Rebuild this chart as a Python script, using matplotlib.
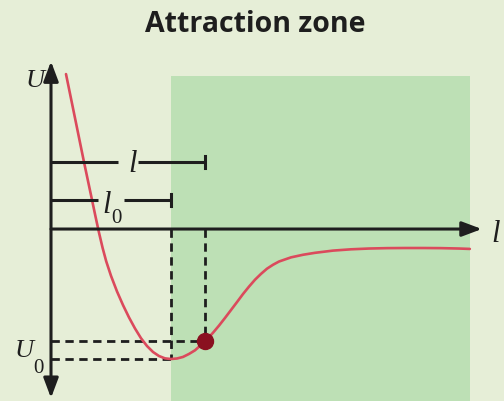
import numpy as np
import matplotlib
matplotlib.use('Agg')
import matplotlib.pyplot as plt
from matplotlib.patches import ArrowStyle

# potential energy U(l) of two molecules, in units of l0 and |U0|
l_curve = [0.125, 0.2, 0.275, 0.342, 0.37, 0.4, 0.43, 0.46, 0.5, 0.55,
           0.6, 0.65, 0.7, 0.75, 0.8, 0.85, 0.9, 0.95, 1.0, 1.05, 1.1,
           1.15, 1.2, 1.25, 1.283, 1.3, 1.35, 1.4, 1.45, 1.5, 1.55, 1.6,
           1.65, 1.7, 1.75, 1.8, 1.85, 1.9, 2.0, 2.1, 2.2, 2.35, 2.5, 2.65,
           2.8, 2.95, 3.1, 3.25, 3.4, 3.49]
u_curve = [1.192, 0.854, 0.515, 0.223, 0.1, -0.028, -0.145, -0.248, -0.36,
           -0.48, -0.585, -0.68, -0.765, -0.84, -0.9, -0.946, -0.977, -0.995,
           -1.0, -0.996, -0.984, -0.961, -0.933, -0.892, -0.865, -0.849,
           -0.798, -0.743, -0.684, -0.623, -0.562, -0.5, -0.443, -0.39,
           -0.345, -0.305, -0.275, -0.25, -0.218, -0.198, -0.183, -0.166,
           -0.156, -0.15, -0.147, -0.146, -0.146, -0.147, -0.15, -0.153]

l0, U0 = 1.0, -1.0          # equilibrium distance and well depth
l_pt, u_pt = 1.283, -0.865  # a point inside the attraction zone
zone = (1.0, 3.49)          # attraction zone along l
zone_top = 1.177

title = 'Attraction zone'

BG = '#e6eed7'
ZONE = '#bde0b5'
RED = '#db4a5c'
DOT = '#8a1020'
INK = '#1e1e1e'

SERIF = 'Liberation Serif'


def arrow(ax, start, end, style):
    head = ArrowStyle(style, head_length=0.8, head_width=0.3)
    ax.annotate('', xy=end, xytext=start,
                arrowprops=dict(arrowstyle=head, mutation_scale=15, lw=2.2,
                                color=INK, shrinkA=0, shrinkB=0), zorder=5)


def bracket(ax, u, end, gap, label, sub=None):
    # horizontal measuring line from the U axis with a label in a gap
    ax.plot([0, gap[0]], [u, u], color=INK, lw=2.2, solid_capstyle='butt', zorder=5)
    ax.plot([gap[1], end], [u, u], color=INK, lw=2.2, solid_capstyle='butt', zorder=5)
    ax.plot([end, end], [u - 0.046, u + 0.046], color=INK, lw=2.2, zorder=5)
    ax.text(label[0], label[1], 'l', family=SERIF, style='italic', fontsize=22,
            ha='center', va='baseline', color=INK)
    if sub is not None:
        ax.text(sub[0], sub[1], '0', family=SERIF, fontsize=15,
                ha='center', va='baseline', color=INK)


def main():
    fig = plt.figure(figsize=(5.04, 4.01), dpi=100, facecolor=BG)
    ax = fig.add_axes([0, 0, 1, 1])
    ax.set_facecolor(BG)
    ax.set_xlim(-0.425, 3.775)
    ax.set_ylim(-1.323, 1.762)
    ax.set_axis_off()

    # attraction zone
    ax.fill_between(zone, -1.4, zone_top, color=ZONE, lw=0, zorder=1)

    # projections of the minimum and of the marked point
    dash = dict(color=INK, lw=2, linestyle=(0, (3, 2)), zorder=3)
    ax.plot([l0, l0], [0, U0], **dash)
    ax.plot([0, l0], [U0, U0], **dash)
    ax.plot([l_pt, l_pt], [0, u_pt], **dash)
    ax.plot([0, l_pt], [u_pt, u_pt], **dash)

    ax.plot(l_curve, u_curve, color=RED, lw=1.9, zorder=4,
            solid_joinstyle='round', solid_capstyle='round')

    # axes
    arrow(ax, (0, 0), (3.59, 0), '-|>')
    arrow(ax, (0, -1.3), (0, 1.29), '<|-|>')
    ax.text(-0.133, 1.092, 'U', family=SERIF, style='italic', fontsize=19,
            ha='center', va='baseline', color=INK)
    ax.text(3.708, -0.1, 'l', family=SERIF, style='italic', fontsize=22,
            ha='center', va='baseline', color=INK)
    ax.text(-0.225, -0.985, 'U', family=SERIF, style='italic', fontsize=19,
            ha='center', va='baseline', color=INK)
    ax.text(-0.108, -1.108, '0', family=SERIF, fontsize=15,
            ha='center', va='baseline', color=INK)

    bracket(ax, 0.515, l_pt, (0.558, 0.725), (0.683, 0.438))
    bracket(ax, 0.223, l0, (0.392, 0.608), (0.467, 0.123), (0.542, 0.046))

    ax.plot([l_pt], [u_pt], 'o', color=DOT, ms=11.5, zorder=6)

    fig.text(0.507, 0.921, title, fontsize=20.5, fontweight='bold',
             family='Open Sans', color=INK, ha='center', va='baseline')

    fig.savefig('out.png', dpi=100, facecolor=BG)


if __name__ == '__main__':
    main()
